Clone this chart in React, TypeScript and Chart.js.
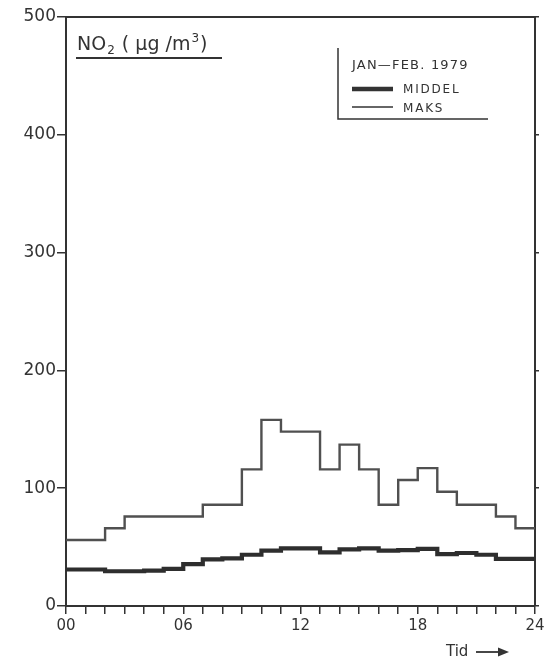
import React, { useEffect, useRef } from 'react';
import { Chart, registerables } from 'chart.js';
Chart.register(...registerables);

// Hour of day at which each hourly value starts
const hourStarts = [0, 1, 2, 3, 4, 5, 6, 7, 8, 9, 10, 11, 12, 13, 14, 15, 16, 17, 18, 19, 20, 21, 22, 23];
const hourEnd = 24;
// MIDDEL (mean) NO2, µg/m3
const middel = [31, 31, 29.5, 29.5, 30, 31.5, 35.5, 39.5, 40.5, 43.5, 47, 49, 49, 45.5, 48, 49, 47, 47.5, 48.5, 44, 45, 43.5, 40, 40];
// MAKS (max) NO2, µg/m3
const maks = [56, 56, 66, 76, 76, 76, 76, 86, 86, 116, 158, 148, 148, 116, 137, 116, 86, 107, 117, 97, 86, 86, 76, 66];
const xTickLabels: Record<number, string> = { 0: '00', 6: '06', 12: '12', 18: '18', 24: '24' };
const yTicks = [0, 100, 200, 300, 400, 500];
const titleParts = ['NO', '2', ' ( µg /m', '3', ')'];
const legendTitle = 'JAN—FEB. 1979';
const seriesNames = ['MIDDEL', 'MAKS'];
const xAxisName = 'Tid';

const INK = '#333333';
const FONT = '"DejaVu Sans", "Liberation Sans", sans-serif';

function toSteps(vals: number[]) {
  const pts = vals.map((v, i) => ({ x: hourStarts[i], y: v }));
  pts.push({ x: hourEnd, y: vals[vals.length - 1] });
  return pts;
}

const annotations = {
  id: 'annotations',
  afterDraw(chart: any) {
    const ctx = chart.ctx as CanvasRenderingContext2D;
    ctx.save();
    ctx.fillStyle = INK;
    ctx.strokeStyle = INK;
    ctx.textBaseline = 'alphabetic';
    ctx.textAlign = 'left';
    // Title with sub/superscripts
    let x = 77;
    const base = 50;
    ctx.font = `19px ${FONT}`;
    ctx.fillText(titleParts[0], x, base); x += ctx.measureText(titleParts[0]).width + 1;
    ctx.font = `12px ${FONT}`;
    ctx.fillText(titleParts[1], x, base + 4); x += ctx.measureText(titleParts[1]).width + 1;
    ctx.font = `19px ${FONT}`;
    ctx.fillText(titleParts[2], x, base); x += ctx.measureText(titleParts[2]).width + 1;
    ctx.font = `12px ${FONT}`;
    ctx.fillText(titleParts[3], x, base - 8); x += ctx.measureText(titleParts[3]).width + 1;
    ctx.font = `19px ${FONT}`;
    ctx.fillText(titleParts[4], x, base);
    ctx.lineWidth = 2.2;
    ctx.beginPath(); ctx.moveTo(76, 58); ctx.lineTo(222, 58); ctx.stroke();

    // Legend box
    ctx.lineWidth = 1.5;
    ctx.beginPath(); ctx.moveTo(338, 48); ctx.lineTo(338, 119); ctx.lineTo(488, 119); ctx.stroke();
    ctx.font = `13px ${FONT}`;
    (ctx as any).letterSpacing = '1.2px';
    ctx.fillText(legendTitle, 352, 69);
    ctx.font = `12px ${FONT}`;
    (ctx as any).letterSpacing = '1.8px';
    ctx.fillText(seriesNames[0], 403, 93);
    ctx.fillText(seriesNames[1], 403, 112);
    (ctx as any).letterSpacing = '0px';
    ctx.lineWidth = 4.5;
    ctx.beginPath(); ctx.moveTo(352, 89); ctx.lineTo(393, 89); ctx.stroke();
    ctx.lineWidth = 1.3;
    ctx.beginPath(); ctx.moveTo(352, 107); ctx.lineTo(393, 107); ctx.stroke();

    // Tid arrow
    ctx.font = `15px ${FONT}`;
    ctx.fillText(xAxisName, 446, 656);
    ctx.lineWidth = 1.8;
    ctx.beginPath(); ctx.moveTo(476, 652); ctx.lineTo(504, 652); ctx.stroke();
    ctx.beginPath(); ctx.moveTo(509, 652); ctx.lineTo(498, 647.5); ctx.lineTo(498, 656.5); ctx.closePath(); ctx.fill();
    ctx.restore();
  },
};

export default function App() {
  const ref = useRef<HTMLCanvasElement>(null);
  useEffect(() => {
    if (!ref.current) return;
    const chart = new Chart(ref.current, {
      type: 'line',
      data: {
        datasets: [
          {
            label: seriesNames[1],
            data: toSteps(maks),
            stepped: 'before',
            borderColor: '#505050',
            borderWidth: 2.4,
            pointRadius: 0,
            fill: false,
          },
          {
            label: seriesNames[0],
            data: toSteps(middel),
            stepped: 'before',
            borderColor: '#2e2e2e',
            borderWidth: 4.2,
            pointRadius: 0,
            fill: false,
          },
        ],
      },
      options: {
        animation: false,
        responsive: false,
        layout: { padding: 0 },
        plugins: { legend: { display: false }, tooltip: { enabled: false }, title: { display: false } },
        scales: {
          x: {
            type: 'linear',
            position: 'bottom',
            min: 0,
            max: 24,
            afterFit: (s: any) => { s.height = 53; },
            ticks: {
              stepSize: 1,
              autoSkip: false,
              maxRotation: 0,
              padding: 3,
              color: INK,
              font: { family: FONT, size: 15 },
              callback: (v: any) => xTickLabels[v as number] ?? '',
            },
            grid: { drawOnChartArea: false, drawTicks: true, tickLength: 8, color: INK, lineWidth: 1.5 },
            border: { display: true, color: INK, width: 2 },
          },
          xTop: {
            type: 'linear',
            position: 'top',
            min: 0,
            max: 24,
            afterFit: (s: any) => { s.height = 17; },
            ticks: { display: false },
            grid: { drawOnChartArea: false, drawTicks: false },
            border: { display: true, color: INK, width: 2 },
          },
          y: {
            type: 'linear',
            position: 'left',
            min: 0,
            max: 500,
            afterFit: (s: any) => { s.width = 66; },
            afterBuildTicks: (s: any) => { s.ticks = yTicks.map((v) => ({ value: v })); },
            ticks: { padding: 1, color: INK, font: { family: FONT, size: 17 } },
            grid: { drawOnChartArea: false, drawTicks: true, tickLength: 9, color: INK, lineWidth: 1.5 },
            border: { display: true, color: INK, width: 2 },
          },
          yRight: {
            type: 'linear',
            position: 'right',
            min: 0,
            max: 500,
            afterFit: (s: any) => { s.width = 17; },
            afterBuildTicks: (s: any) => { s.ticks = yTicks.map((v) => ({ value: v })); },
            ticks: { display: false },
            grid: { drawOnChartArea: false, drawTicks: true, tickLength: 4, color: INK, lineWidth: 1.5 },
            border: { display: true, color: INK, width: 2 },
          },
        },
      },
      plugins: [annotations],
    });
    return () => chart.destroy();
  }, []);
  return (
    <div style={{ position: 'fixed', left: 0, top: 0, width: 552, height: 659, background: '#fff' }}>
      <canvas ref={ref} width={552} height={659} style={{ display: 'block' }} />
    </div>
  );
}
